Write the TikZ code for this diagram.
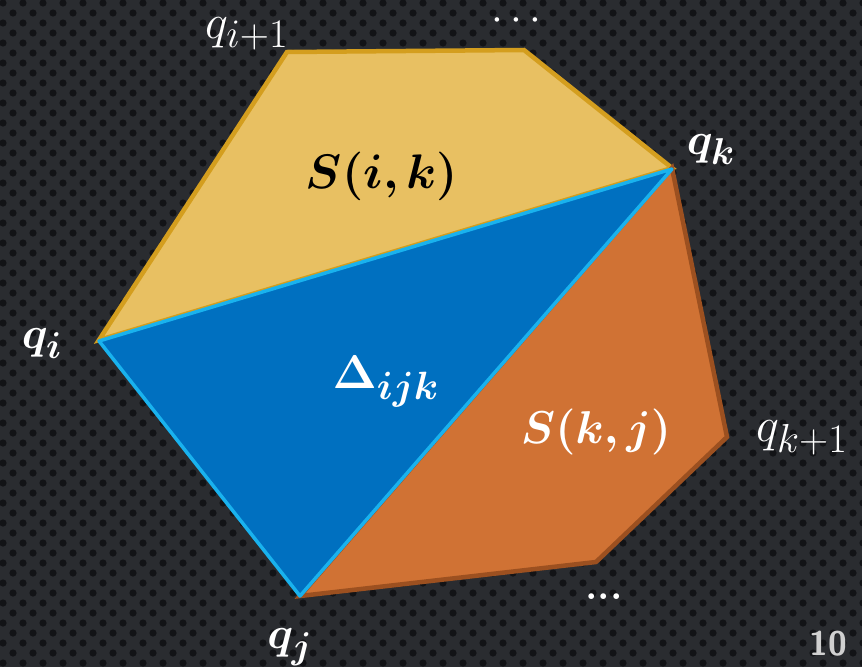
\documentclass[tikz,border=0pt]{standalone}
\usepackage{amsmath,bm,graphicx}
\definecolor{bgbase}{HTML}{2A2C30}
\definecolor{bgdot}{HTML}{121316}
\definecolor{yfill}{HTML}{E8C062}
\definecolor{ydraw}{HTML}{D49E1E}
\definecolor{ofill}{HTML}{D07234}
\definecolor{odraw}{HTML}{9C5020}
\definecolor{bfill}{HTML}{0070C0}
\definecolor{bdraw}{HTML}{19B2EE}
\definecolor{numgray}{HTML}{D0D0D0}
\newcommand{\bigtxt}[2]{\scalebox{#1}{\Huge #2}}
\tikzset{
  lbl/.style={text=white, inner sep=0pt, anchor=base},
}
\begin{document}
\begin{tikzpicture}[x=1pt,y=-1pt]
\useasboundingbox (0,0) rectangle (862,667);
\fill[bgbase] (0,0) rectangle (862,667);
\foreach \r in {0,...,67} {
  \pgfmathsetmacro{\off}{mod(\r,2)*10}
  \foreach \c in {0,...,43} {
    \fill[bgdot] (\c*20+\off+3,\r*10+3) circle (3.6);
  }
}
% vertices
\coordinate (qi) at (99,340);
\coordinate (qip) at (287,52);
\coordinate (tr) at (524,50);
\coordinate (qk) at (672,168);
\coordinate (qkp) at (727,437);
\coordinate (br) at (596,562);
\coordinate (qj) at (300,596);
% polygons
\filldraw[fill=yfill, draw=ydraw, line width=4.5pt, line join=miter] (qi) -- (qip) -- (tr) -- (qk) -- cycle;
\filldraw[fill=ofill, draw=odraw, line width=4.5pt, line join=miter] (qk) -- (qkp) -- (br) -- (qj) -- cycle;
\filldraw[fill=bfill, draw=bdraw, line width=3.5pt, line join=round] ([yshift=-1pt]qi) -- ([yshift=-1pt]qk) -- (qj) -- cycle;
% labels
\node[lbl] (lqip) at (247,38) {\bigtxt{1.95}{$q_{i+1}$}};
\node[lbl] (ldt) at (520,30) {\bigtxt{1.7}{$\cdots$}};
\node[lbl] (lqk) at (711,154) {\bigtxt{1.8}{$\bm{q_k}$}};
\node[lbl] (lqi) at (42,348) {\bigtxt{1.8}{$\bm{q_i}$}};
\node[lbl] (lqkp) at (802,441) {\bigtxt{1.95}{$q_{k+1}$}};
\node[lbl] (lqj) at (290,648) {\bigtxt{1.8}{$\bm{q_j}$}};
\node[lbl] (ldb) at (604,599) {\bigtxt{1.6}{\bfseries ...}};
\node[inner sep=0pt, anchor=base, text=black] (lsik) at (382,188) {\bigtxt{1.95}{$\bm{S(i,k)}$}};
\node[lbl] (ldel) at (386,388) {\bigtxt{1.9}{$\bm{\Delta_{ijk}}$}};
\node[lbl] (lskj) at (596,443) {\bigtxt{1.85}{$\bm{S(k,j)}$}};
\node[inner sep=0pt, anchor=base, text=numgray] (lnum) at (828,655) {\bigtxt{1.37}{\sffamily\bfseries 10}};
\end{tikzpicture}
\end{document}
